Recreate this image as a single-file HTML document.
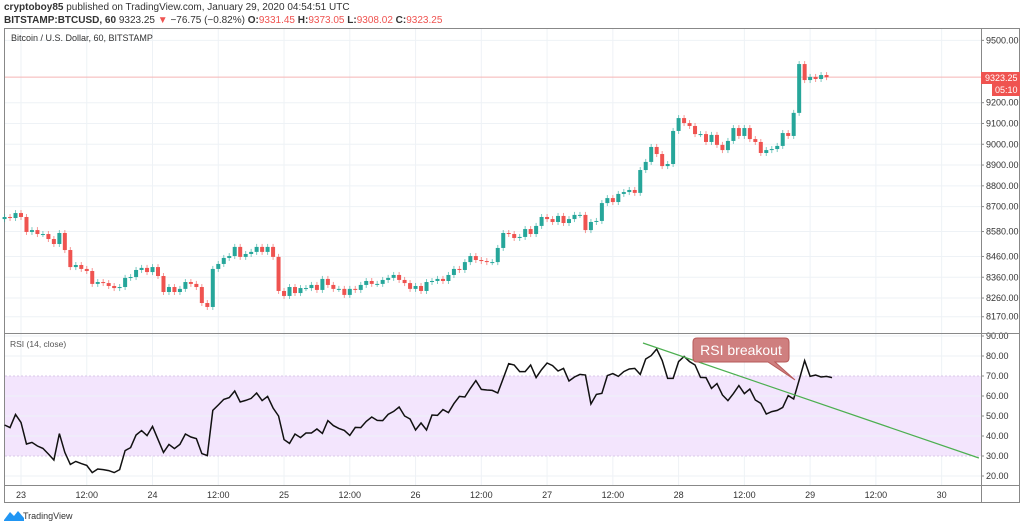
<!DOCTYPE html>
<html><head><meta charset="utf-8"><style>
body{margin:0;width:1024px;height:527px;background:#fff;overflow:hidden;font-family:"Liberation Sans",sans-serif;}
.hdr{position:absolute;left:4px;font-size:10px;color:#333;white-space:nowrap}
</style></head><body>
<div class="hdr" style="top:2px"><b>cryptoboy85</b> published on TradingView.com, January 29, 2020 04:54:51 UTC</div>
<div class="hdr" style="top:15px"><b>BITSTAMP:BTCUSD, 60</b> 9323.25 <span style="color:#ef5350">▼</span> −76.75 (−0.82%) <b>O:</b><span style="color:#ef5350">9331.45</span> <b>H:</b><span style="color:#ef5350">9373.05</span> <b>L:</b><span style="color:#ef5350">9308.02</span> <b>C:</b><span style="color:#ef5350">9323.25</span></div>
<svg id="c" width="1024" height="527" style="position:absolute;left:0;top:0"></svg>
<script>
const closes=[8650,8645,8669,8650,8578,8587,8568,8568,8544,8520,8573,8491,8409,8419,8400,8390,8328,8337,8332,8318,8308,8313,8357,8361,8395,8405,8385,8409,8366,8289,8313,8289,8304,8337,8328,8313,8236,8217,8400,8424,8453,8462,8506,8458,8472,8482,8506,8482,8506,8458,8294,8270,8313,8284,8308,8308,8323,8299,8352,
8323,8304,8304,8275,8304,8299,8323,8342,8328,8328,8347,8357,8371,8347,8332,8304,8318,8294,8337,8342,8352,8342,8371,8400,8395,8433,8462,8443,8438,8433,8433,8501,8573,8568,8549,8554,8592,8568,8607,8650,8640,8626,8655,8621,8640,8660,8660,8587,8626,8631,
8717,8741,8722,8761,8770,8780,8766,8876,8915,8987,8953,8895,8905,9064,9126,9102,9088,9049,9049,9011,9045,8997,8972,9016,9078,9040,9078,9025,9011,8958,8972,8977,8992,9054,9040,9151,9386,9309,9324,9314,9333,9323];
const rsi=[45.5,44.2,50.8,46.8,36,36.8,35,33.8,31,28,41.2,31.8,25.8,27.3,26.2,25.3,21.7,23.5,23.2,22.7,21.7,23.2,32.7,34.2,40.5,42.7,40.2,44.8,38.3,31.8,35.8,33.7,35.8,41,39.5,38.7,31.2,30.2,52.8,55.5,58.3,59.2,62.5,57,57.8,58.8,61.5,57.7,59.8,54,50,38.2,36.3,41,39.2,41.5,41.5,43.5,41.3,47.7,45.2,43.8,42.8,40.3,44.3,44.2,47.3,49.5,47.8,47.7,50.8,52.3,54.5,50,48.5,43,46.5,43,50.5,50.3,53.2,51.7,56.2,59.8,59.5,63.8,67.7,63.3,63,62.8,61.5,68.8,
76.2,75.5,72.2,72.2,75.5,69.2,73.2,76.5,75.2,72.5,73.8,67.5,69.5,70.8,70.5,56,60.8,61.3,70.2,71.2,69.8,72.2,73.5,73.8,70.8,78.5,80.2,83.5,77.8,68.8,68.8,77.2,79.8,77.2,75.5,69.3,69.2,63.8,66.2,60.5,57.7,61.2,65.2,61.2,63.5,58,56.3,51,52.2,52.8,54.3,60.2,58.5,68,77.7,69.8,70.5,69.5,69.8,69.2];
const priceTicks=[9500,9200,9100,9000,8900,8800,8700,8580,8460,8360,8260,8170];
const rsiTicks=[90,80,70,60,50,40,30,20];
const timeTicks=[0,12,24,36,48,60,72,84,96,108,120,132,144,156,168];
const timeLabels=["23","12:00","24","12:00","25","12:00","26","12:00","27","12:00","28","12:00","29","12:00","30"];
const trendH=[113.5,174.8];
const trendR=[86.5,29];
const firstHour=-3;
const lastPrice=9323.25;

const X=h=>21+5.48*h;
const Y=p=>102.7+(9200-p)*0.2078;
const R=v=>516-2*v;
const svg=document.getElementById('c');
const NS='http://www.w3.org/2000/svg';
function mk(t,a,p){const e=document.createElementNS(NS,t);for(const k in a)e.setAttribute(k,a[k]);(p||svg).appendChild(e);return e;}
// frame
let e;
e=mk('rect',{x:4.5,y:28.5,width:1015,height:474,fill:'none',stroke:'#888'});


// grids
timeTicks.forEach((t,i)=>{const x=X(t);
 e=mk('line',{x1:x,x2:x,y1:29,y2:485,stroke:'#eef2f6'});
 
 
 e=mk('text',{x:x,y:498,'font-size':9,fill:'#333','text-anchor':'middle'});e.textContent=timeLabels[i];
 
 
});
priceTicks.forEach(p=>{const y=Y(p);
 e=mk('line',{x1:5,x2:981,y1:y,y2:y,stroke:'#eef2f6'});
 
 
 mk('line',{x1:981,x2:984,y1:y,y2:y,stroke:'#888'});
 e=mk('text',{x:986,y:y+3,'font-size':9,fill:'#333'});e.textContent=p.toFixed(2);
 
 
});
// rsi band
e=mk('rect',{x:5,y:R(70),width:976,height:R(30)-R(70),fill:'#f3e5fd'});


[70,30].forEach(v=>mk('line',{x1:5,x2:981,y1:R(v),y2:R(v),stroke:'#d8c8e8','stroke-dasharray':'2,2'}));
rsiTicks.forEach(v=>{const y=R(v);
 if(v!==70&&v!==30){e=mk('line',{x1:5,x2:981,y1:y,y2:y,stroke:'#eef2f6'});
 
 }
 mk('line',{x1:981,x2:984,y1:y,y2:y,stroke:'#888'});
 e=mk('text',{x:986,y:y+3,'font-size':9,fill:'#333'});e.textContent=v.toFixed(2);
 
 
});
// separators
mk('line',{x1:5,x2:1020,y1:333.5,y2:333.5,stroke:'#888'});
mk('line',{x1:5,x2:1020,y1:485.5,y2:485.5,stroke:'#888'});
mk('line',{x1:981.5,x2:981.5,y1:29,y2:503,stroke:'#888'});
// last price line
e=mk('line',{x1:5,x2:981,y1:Y(lastPrice),y2:Y(lastPrice),stroke:'#f5b5b5'});


// candles
closes.forEach((c,i)=>{const o=i?closes[i-1]:8640;const x=X(firstHour+i);
 const up=c>=o, col=up?'#26a69a':'#ef5350';
 const yt=Y(Math.max(o,c)),yb=Y(Math.min(o,c));
 const g=mk('g',{});
 
 
 mk('line',{x1:x,x2:x,y1:yt-3,y2:yb+3,stroke:col,'stroke-opacity':0.6},g);
 mk('rect',{x:x-2,y:yt,width:4,height:Math.max(1,yb-yt),fill:col},g);
});
// rsi line
e=mk('polyline',{points:rsi.map((v,i)=>X(firstHour+i)+','+R(v)).join(' '),fill:'none',stroke:'#111','stroke-width':1.5});


// trendline
e=mk('line',{x1:X(trendH[0]),y1:R(trendR[0]),x2:X(trendH[1]),y2:R(trendR[1]),stroke:'#4caf50','stroke-width':1.2});


// callout
const cg=mk('g',{});


mk('path',{d:'M697,338 H785 Q789,338 789,342 V358 Q789,362 785,362 H775 L795,380 L768,362 H697 Q693,362 693,358 V342 Q693,338 697,338 Z',fill:'#cf7f7f',stroke:'#b55a5a'},cg);
e=mk('text',{x:741,y:355,'font-size':14,fill:'#fff','text-anchor':'middle'},cg);e.textContent='RSI breakout';
// price labels
e=mk('rect',{x:981,y:72,width:39,height:12,fill:'#ef5350'});
e=mk('text',{x:985,y:81,'font-size':9,fill:'#fff'});e.textContent='9323.25';


mk('rect',{x:992,y:84,width:28,height:12,fill:'#ef5350'});
e=mk('text',{x:995,y:93,'font-size':9,fill:'#fff'});e.textContent='05:10';


// titles
e=mk('text',{x:11,y:41,'font-size':9,fill:'#333'});e.textContent='Bitcoin / U.S. Dollar, 60, BITSTAMP';


e=mk('text',{x:10,y:347,'font-size':8.5,fill:'#555'});e.textContent='RSI (14, close)';


// logo
e=mk('path',{d:'M4,520 L10,512 L14,516 L18,511 L24,518 L24,521 L4,521 Z',fill:'#2196f3'});


e=mk('text',{x:23,y:519,'font-size':9,fill:'#333'});e.textContent='TradingView';


</script>
</body></html>
